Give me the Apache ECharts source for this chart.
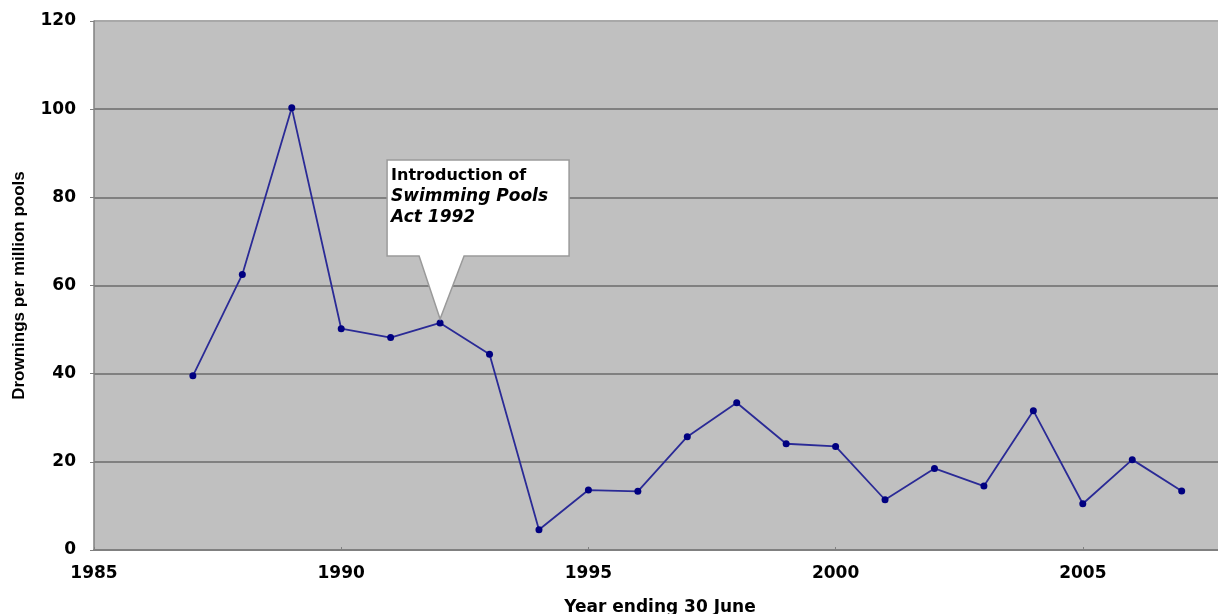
<!DOCTYPE html>
<html>
<head>
<meta charset="utf-8">
<script src="https://cdn.jsdelivr.net/npm/echarts@6/dist/echarts.min.js"></script>
<style>
html, body { margin: 0; padding: 0; background: #fff; }
#chart { width: 1218px; height: 614px; }
</style>
</head>
<body>
<div id="chart"></div>
<script>
var years = [1987, 1988, 1989, 1990, 1991, 1992, 1993, 1994, 1995, 1996, 1997,
    1998, 1999, 2000, 2001, 2002, 2003, 2004, 2005, 2006, 2007];
var drownings = [39.5, 62.5, 100.3, 50.2, 48.2, 51.5, 44.4, 4.6, 13.6, 13.3, 25.7,
    33.4, 24.1, 23.5, 11.4, 18.5, 14.5, 31.6, 10.5, 20.5, 13.4];

var yTicks = [0, 20, 40, 60, 80, 100, 120];
var xTicks = [1985, 1990, 1995, 2000, 2005];

var noteYear = 1992;
var noteLines = ['Introduction of', 'Swimming Pools', 'Act 1992'];

var font = 'DejaVu Sans';

var points = years.map(function (y, i) {
    return [y, drownings[i]];
});

var ec = echarts.init(document.getElementById('chart'));

ec.setOption({
    animation: false,
    grid: {
        left: 94,
        top: 21,
        right: -112,
        bottom: 64,
        outerBoundsMode: 'none',
        containLabel: false,
        show: true,
        backgroundColor: '#c0c0c0',
        borderWidth: 0
    },
    xAxis: {
        type: 'value',
        min: 1985,
        max: 2010,
        interval: 5,
        axisLine: { show: true, lineStyle: { color: '#808080', width: 2 } },
        axisTick: { show: true, inside: true, length: 3, lineStyle: { color: '#808080' } },
        axisLabel: {
            margin: 15,
            color: '#000',
            fontFamily: font,
            fontWeight: 'bold',
            fontSize: 17,
            formatter: function (v) {
                return xTicks.indexOf(v) >= 0 ? String(v) : '';
            }
        },
        splitLine: { show: false }
    },
    yAxis: {
        type: 'value',
        min: yTicks[0],
        max: yTicks[yTicks.length - 1],
        interval: 20,
        name: 'Drownings per million pools',
        nameLocation: 'middle',
        nameRotate: 90,
        nameGap: 66,
        nameTextStyle: {
            color: '#000',
            fontFamily: 'Liberation Sans',
            fontWeight: 'bold',
            fontSize: 17
        },
        axisLine: { show: true, lineStyle: { color: '#808080', width: 1.5 } },
        axisTick: { show: true, length: 4, lineStyle: { color: '#808080' } },
        axisLabel: {
            margin: 18,
            color: '#000',
            fontFamily: font,
            fontWeight: 'bold',
            fontSize: 17
        },
        splitLine: {
            show: true,
            lineStyle: {
                color: ['#808080', '#808080', '#808080', '#808080', '#808080', '#808080', '#a8a8a8'],
                width: 2
            }
        }
    },
    series: [{
        type: 'line',
        data: points,
        symbol: 'circle',
        symbolSize: 7,
        lineStyle: { color: '#2a2a96', width: 1.8 },
        itemStyle: { color: '#000080' }
    }]
});

// callout pointing at the 1992 point
var idx = years.indexOf(noteYear);
var pt = ec.convertToPixel({ gridIndex: 0 }, points[idx]);
var tx = pt[0], ty = pt[1] - 4;
var bl = tx - 53, br = tx + 129, bt = ty - 159, bb = ty - 63;

ec.setOption({
    graphic: [{
        type: 'polygon',
        shape: {
            points: [[bl, bt], [br, bt], [br, bb], [tx + 24, bb], [tx, ty], [tx - 21, bb], [bl, bb]]
        },
        style: { fill: '#fff', stroke: '#9a9a9a', lineWidth: 1.5 },
        z: 10
    }, {
        type: 'text',
        x: bl + 4,
        y: bt + 5,
        style: {
            text: '{a|' + noteLines[0] + '}\n{b|' + noteLines[1] + '}\n{b|' + noteLines[2] + '}',
            rich: {
                a: { fontFamily: font, fontWeight: 'bold', fontSize: 16, lineHeight: 21, fill: '#000' },
                b: { fontFamily: font, fontWeight: 'bold', fontStyle: 'italic', fontSize: 17, lineHeight: 21, fill: '#000' }
            }
        },
        z: 11
    }, {
        type: 'text',
        x: 660,
        y: 608,
        style: {
            text: 'Year ending 30 June',
            fontFamily: font,
            fontWeight: 'bold',
            fontSize: 17,
            fill: '#000',
            align: 'center',
            verticalAlign: 'middle'
        }
    }]
});
</script>
</body>
</html>
